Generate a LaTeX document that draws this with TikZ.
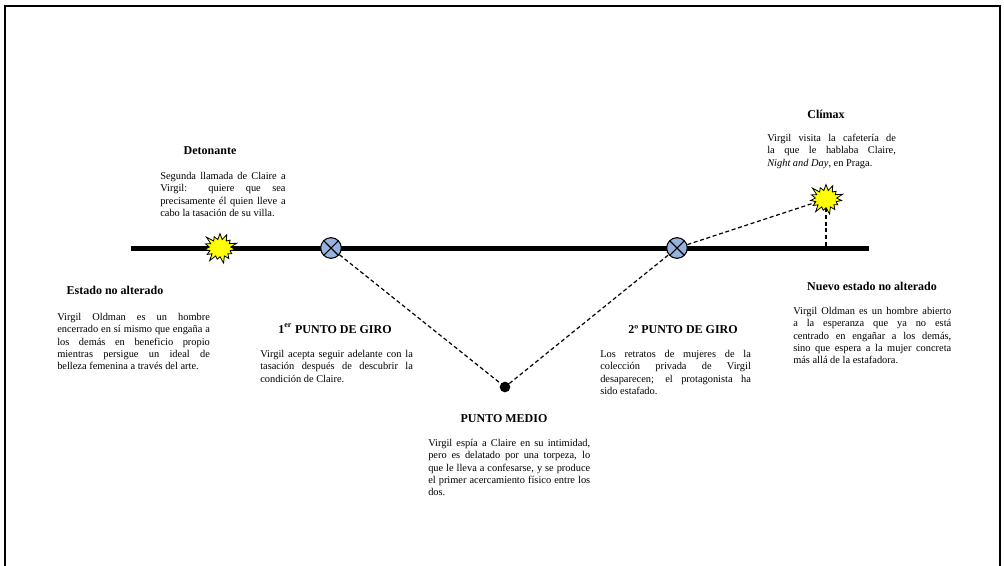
\documentclass[tikz,border=0pt]{standalone}
\usepackage{fontspec}
\setmainfont{Liberation Serif}
\usetikzlibrary{shapes.symbols}
\definecolor{turnblue}{RGB}{150,178,222}
\definecolor{burstyellow}{RGB}{255,255,0}
\tolerance=10000
\hbadness=10000

\begin{document}
\begin{tikzpicture}[x=0.75pt,y=0.75pt,yscale=-1,xscale=1,
  head/.style={anchor=base,inner sep=0pt,font=\fontsize{9}{10.8}\selectfont\bfseries},
  body/.style={anchor=north west,inner sep=0pt,align=justify,font=\fontsize{7.8}{9.2}\selectfont},
  turn/.style={circle,draw,line width=0.8pt,fill=turnblue,minimum size=15.5pt,inner sep=0pt,
    path picture={\draw[line width=0.8pt] (path picture bounding box.north west) -- (path picture bounding box.south east)
      (path picture bounding box.north east) -- (path picture bounding box.south west);}},
  burst/.style={starburst,draw,line width=0.6pt,fill=burstyellow,minimum width=28pt,minimum height=25pt,
    starburst points=15,starburst point height=6pt,inner sep=0pt},
  link/.style={line width=0.9pt,dash pattern=on 3pt off 2pt}]
\useasboundingbox (0,0) rectangle (1004,565);

%Frame
\draw [line width=1.6pt] (5,580) -- (5,6) -- (1000,6) -- (1000,580) ;

%Straight Lines (timeline)
\coordinate (tl0) at (131,248);
\coordinate (tl1) at (869,248);
\coordinate (climbase) at (826,248);
\draw [line width=3.75pt] (tl0) -- (tl1) ;

%Shapes
\node [burst] (deto) at (220,248) {};
\node [burst] (clim) at (826,199) {};
\node [turn] (giro1) at (331,248) {};
\node [turn] (giro2) at (677,248) {};
\node [circle,fill=black,minimum size=8pt,inner sep=0pt] (medio) at (505,387) {};

%Dashed Lines
\draw [link] (giro1) -- (medio) ;
\draw [link] (medio) -- (giro2) ;
\draw [link] (giro2) -- (clim) ;
\draw [link] (clim) -- (climbase) ;

% Text Node
\node [head] (detoh) at (210,154) {Detonante};
\node [body,text width=94pt] (detot) at (160,172) {Segunda llamada de Claire a\linebreak Virgil: quiere que sea\linebreak precisamente él quien lleve a\linebreak cabo la tasación de su villa.};
% Text Node
\node [head] (estadoh) at (115,294) {Estado no alterado};
\node [body,text width=114.5pt] (estadot) at (57,313) {Virgil Oldman es un hombre\linebreak encerrado en sí mismo que engaña a\linebreak los demás en beneficio propio\linebreak mientras persigue un ideal de\linebreak belleza femenina a través del arte.};
% Text Node
\node [head] (giro1h) at (335,333) {1\textsuperscript{er} PUNTO DE GIRO};
\node [body,text width=114.5pt] (giro1t) at (260,350) {Virgil acepta seguir adelante con la\linebreak tasación después de descubrir la\linebreak condición de Claire.};
% Text Node
\node [head] (medioh) at (504,422) {PUNTO MEDIO};
\node [body,text width=121.5pt] (mediot) at (428,439) {Virgil espía a Claire en su intimidad,\linebreak pero es delatado por una torpeza, lo\linebreak que le lleva a confesarse, y se produce\linebreak el primer acercamiento físico entre los\linebreak dos.};
% Text Node
\node [head] (giro2h) at (683,333) {2º PUNTO DE GIRO};
\node [body,text width=113pt] (giro2t) at (600,350) {Los retratos de mujeres de la\linebreak colección privada de Virgil\linebreak desaparecen; el protagonista ha\linebreak sido estafado.};
% Text Node
\node [head] (climh) at (826,118) {Clímax};
\node [body,text width=96.5pt] (climt) at (767,134) {Virgil visita la cafetería de\linebreak la que le hablaba Claire,\linebreak \textit{Night and Day}, en Praga.};
% Text Node
\node [head] (nuevoh) at (872,290) {Nuevo estado no alterado};
\node [body,text width=118.5pt] (nuevot) at (793,307) {Virgil Oldman es un hombre abierto\linebreak a la esperanza que ya no está\linebreak centrado en engañar a los demás,\linebreak sino que espera a la mujer concreta\linebreak más allá de la estafadora.};

\end{tikzpicture}
\end{document}
